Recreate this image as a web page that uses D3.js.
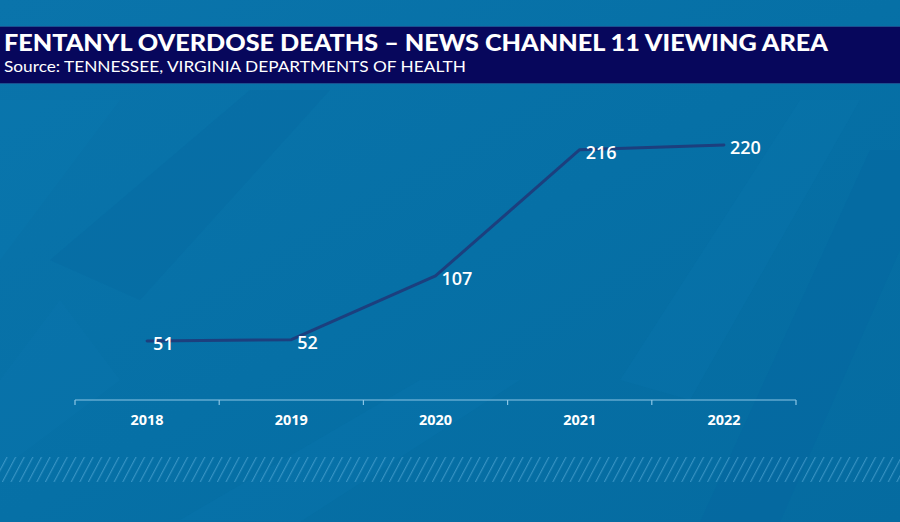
<!DOCTYPE html>
<html><head><meta charset="utf-8">
<script src="https://cdn.jsdelivr.net/npm/d3@7"></script>
<style>html,body{margin:0;padding:0;background:#0670a6;overflow:hidden}svg{display:block}</style>
</head><body>
<script>
const years = ["2018","2019","2020","2021","2022"];
const deaths = [51, 52, 107, 216, 220];
const title = "FENTANYL OVERDOSE DEATHS – NEWS CHANNEL 11 VIEWING AREA";
const subtitle = "Source: TENNESSEE, VIRGINIA DEPARTMENTS OF HEALTH";

const W = 900, H = 522;
const svg = d3.select("body").append("svg").attr("width", W).attr("height", H);
const defs = svg.append("defs");

const bg = defs.append("linearGradient").attr("id","bg").attr("x1","0").attr("y1","0").attr("x2","1").attr("y2","1");
bg.append("stop").attr("offset","0").attr("stop-color","#0a74ab");
bg.append("stop").attr("offset","0.5").attr("stop-color","#0670a6");
bg.append("stop").attr("offset","1").attr("stop-color","#056ba0");
svg.append("rect").attr("width",W).attr("height",H).attr("fill","url(#bg)");

// soft diagonal background shapes
const shapes = [
  {pts:[[0,100],[120,100],[0,260]], c:"#0a78b0", o:0.4},
  {pts:[[50,260],[250,90],[330,90],[140,300]], c:"#0568a0", o:0.3},
  {pts:[[180,520],[420,380],[520,380],[300,522]], c:"#0a78b0", o:0.3},
  {pts:[[700,522],[870,150],[900,150],[900,250],[780,522]], c:"#0566a0", o:0.4},
  {pts:[[620,380],[800,100],[860,100],[690,400]], c:"#0a77af", o:0.25},
  {pts:[[0,380],[60,300],[120,380],[0,470]], c:"#0a78b0", o:0.25}
];
svg.append("g").selectAll("path").data(shapes).join("path")
  .attr("d", d => d3.line()(d.pts) + "Z")
  .attr("fill", d => d.c).attr("opacity", d => d.o);

// hatched band
const pat = defs.append("pattern").attr("id","hatch").attr("patternUnits","userSpaceOnUse")
  .attr("width",8.6).attr("height",25).attr("patternTransform","skewX(-28)");
pat.append("rect").attr("x",0).attr("y",0).attr("width",1.3).attr("height",25).attr("fill","#5fb0dc").attr("opacity",0.55);
svg.append("rect").attr("x",0).attr("y",457).attr("width",W).attr("height",25).attr("fill","url(#hatch)");

// title bar
svg.append("rect").attr("x",0).attr("y",26).attr("width",W).attr("height",58).attr("fill","#1a4f8f");
svg.append("rect").attr("x",0).attr("y",27).attr("width",W).attr("height",56).attr("fill","#07075c");
svg.append("text").attr("x",4).attr("y",51).text(title)
  .attr("fill","#fff").attr("font-family","Lato, sans-serif").attr("font-weight",900)
  .attr("font-size",23).attr("textLength",824).attr("lengthAdjust","spacingAndGlyphs");
svg.append("text").attr("x",4).attr("y",71.5).text(subtitle)
  .attr("fill","#fff").attr("font-family","Lato, sans-serif").attr("font-weight",400)
  .attr("font-size",15).attr("textLength",462).attr("lengthAdjust","spacingAndGlyphs");

// scales
const x = d3.scaleBand().domain(years).range([75, 796]).padding(0);
const y = d3.scaleLinear().domain([0, 220]).range([400, 145]);
const cx = d => x(d) + x.bandwidth()/2;

// axis
const axis = svg.append("g");
axis.append("line").attr("x1",75).attr("x2",796).attr("y1",400).attr("y2",400)
  .attr("stroke","#8cc6e6").attr("stroke-width",1.2);
const edges = years.map(d => x(d)).concat([x.range()[1]]);
axis.selectAll("line.tk").data(edges).join("line").attr("class","tk")
  .attr("x1",d=>d).attr("x2",d=>d).attr("y1",400).attr("y2",405)
  .attr("stroke","#8cc6e6").attr("stroke-width",1.2);
axis.selectAll("text").data(years).join("text")
  .attr("x", d => cx(d)).attr("y", 425).attr("text-anchor","middle")
  .attr("fill","#fff").attr("font-family","Open Sans, sans-serif").attr("font-weight",700)
  .attr("font-size",15).attr("textLength",33).attr("lengthAdjust","spacingAndGlyphs").text(d => d);

// line
const pts = years.map((d,i) => ({yr:d, v:deaths[i]}));
svg.append("path").datum(pts)
  .attr("d", d3.line().x(d => cx(d.yr)).y(d => y(d.v)))
  .attr("fill","none").attr("stroke","#1c3f7e").attr("stroke-width",3)
  .attr("stroke-linejoin","round").attr("stroke-linecap","round");

// value labels
svg.append("g").selectAll("text").data(pts).join("text")
  .attr("x", d => cx(d.yr) + 6).attr("y", d => y(d.v) + 9)
  .attr("fill","#fff").attr("font-family","Open Sans, sans-serif").attr("font-weight",600)
  .attr("font-size",18).text(d => d.v);
</script>
</body></html>
